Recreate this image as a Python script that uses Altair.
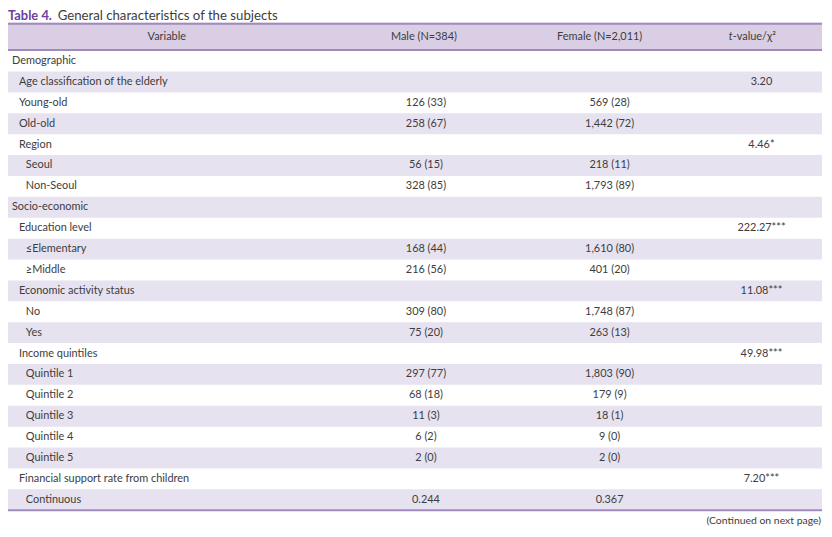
import altair as alt
import pandas as pd

# ---- table content ----
labels = [
    "Demographic", "Age classification of the elderly", "Young-old", "Old-old",
    "Region", "Seoul", "Non-Seoul", "Socio-economic", "Education level",
    "\u2264Elementary", "\u2265Middle", "Economic activity status", "No", "Yes",
    "Income quintiles", "Quintile 1", "Quintile 2", "Quintile 3", "Quintile 4",
    "Quintile 5", "Financial support rate from children", "Continuous",
]
levels = [0, 1, 1, 1, 1, 2, 2, 0, 1, 2, 2, 1, 2, 2, 1, 2, 2, 2, 2, 2, 1, 2]
male = ["", "", "126 (33)", "258 (67)", "", "56 (15)", "328 (85)", "", "",
        "168 (44)", "216 (56)", "", "309 (80)", "75 (20)", "", "297 (77)",
        "68 (18)", "11 (3)", "6 (2)", "2 (0)", "", "0.244"]
female = ["", "", "569 (28)", "1,442 (72)", "", "218 (11)", "1,793 (89)", "", "",
          "1,610 (80)", "401 (20)", "", "1,748 (87)", "263 (13)", "", "1,803 (90)",
          "179 (9)", "18 (1)", "9 (0)", "2 (0)", "", "0.367"]
stat = ["", "3.20", "", "", "4.46*", "", "", "", "222.27***", "", "",
        "11.08***", "", "", "49.98***", "", "", "", "", "", "7.20***", ""]
headers = ["Variable", "Male (N=384)", "Female (N=2,011)"]
title_bold = "Table 4."
title_rest = "General characteristics of the subjects"
footnote = "(Continued on next page)"

df = pd.DataFrame({
    "row": list(range(len(labels))),
    "label": labels,
    "level": levels,
    "male": male,
    "female": female,
    "stat": stat,
})

# ---- layout / style ----
W, H = 822, 521
FONT = "Lato"
TXT = "#3d3d3d"
PURPLE = "#6f3f99"
LINE = "#a08abb"
HEAD_BG = "#d9cee4"
SHADE = "#e7e2ef"
FS = 11
INDENT = {0: 4, 1: 11, 2: 18}
HEAD_X = [160, 419, 596]

yscale = alt.Scale(range=[41, 504], paddingInner=0, paddingOuter=0)
Y = alt.Y("row:O", scale=yscale, axis=None)

base = alt.Chart(df)

shade = base.transform_filter("datum.row % 2 == 1").mark_rect(color=SHADE).encode(
    y=Y, x=alt.value(0), x2=alt.value(820)
)

label_layers = [
    base.transform_filter(f"datum.level == {lv}").mark_text(
        align="left", baseline="middle", font=FONT, fontSize=FS, color=TXT
    ).encode(y=Y, x=alt.value(px), text="label:N")
    for lv, px in INDENT.items()
]

def col_text(field, px):
    return base.mark_text(align="center", baseline="middle", font=FONT, fontSize=FS,
                          color=TXT).encode(y=Y, x=alt.value(px), text=f"{field}:N")

mtxt = col_text("male", 421)
ftxt = col_text("female", 606)
stxt = col_text("stat", 759)

one = pd.DataFrame({"k": [0]})
hdr = alt.Chart(one)

head_bg = hdr.mark_rect(color=HEAD_BG).encode(
    x=alt.value(0), x2=alt.value(820), y=alt.value(13), y2=alt.value(41))
line_top = hdr.mark_rule(color=LINE, strokeWidth=2).encode(
    x=alt.value(0), x2=alt.value(820), y=alt.value(14))
line_head = hdr.mark_rule(color=LINE, strokeWidth=2).encode(
    x=alt.value(0), x2=alt.value(820), y=alt.value(40.5))
line_bot = hdr.mark_rule(color=LINE, strokeWidth=2).encode(
    x=alt.value(0), x2=alt.value(820), y=alt.value(504))

head_layers = [
    hdr.mark_text(align="center", baseline="middle", font=FONT, fontSize=FS, color=TXT,
                  text=h).encode(x=alt.value(px), y=alt.value(27.5))
    for h, px in zip(headers, HEAD_X)
]
t_it = hdr.mark_text(align="right", baseline="middle", font=FONT, fontSize=FS, color=TXT,
                     fontStyle="italic", text="t").encode(x=alt.value(730), y=alt.value(27.5))
t_rest = hdr.mark_text(align="left", baseline="middle", font=FONT, fontSize=FS, color=TXT,
                       text="-value/\u03c7\u00b2").encode(x=alt.value(730), y=alt.value(27.5))

title1 = hdr.mark_text(align="left", baseline="alphabetic", font=FONT, fontSize=13,
                       fontWeight="bold", color=PURPLE, text=title_bold).encode(
    x=alt.value(0), y=alt.value(10.5))
title2 = hdr.mark_text(align="left", baseline="alphabetic", font=FONT, fontSize=13.3,
                       color=TXT, text=title_rest).encode(x=alt.value(50), y=alt.value(10.5))
foot = hdr.mark_text(align="right", baseline="alphabetic", font=FONT, fontSize=10.5,
                     color=TXT, text=footnote).encode(x=alt.value(819), y=alt.value(518))

chart = alt.layer(
    head_bg, shade, line_top, line_head, line_bot,
    *label_layers, mtxt, ftxt, stxt, *head_layers, t_it, t_rest, title1, title2, foot,
).properties(width=W, height=H, padding=0, autosize="none").configure_view(stroke=None)

chart.save("out.html", embed_options={"renderer": "svg", "actions": False})
